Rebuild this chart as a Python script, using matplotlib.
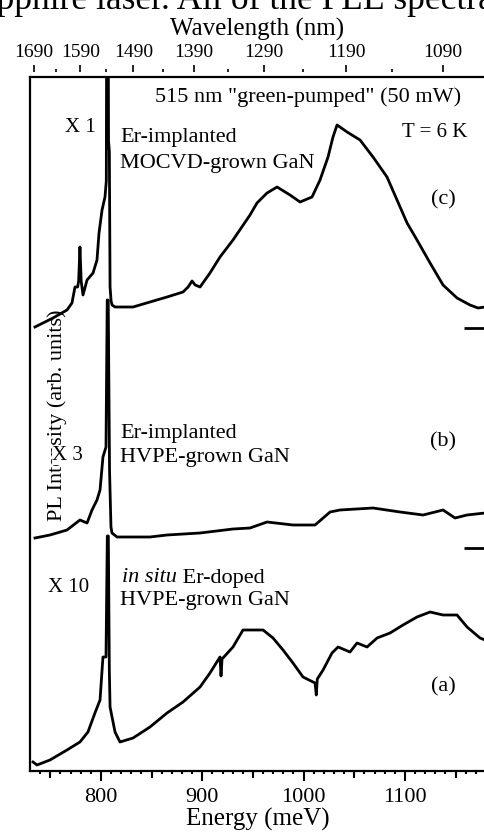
import numpy as np
import matplotlib.pyplot as plt

plt.rcParams['font.family'] = ['Liberation Serif', 'DejaVu Serif']

# spectra: energy (meV) and PL intensity (arb. units, offset stacked)
energy_c = [734.9, 742.8, 752.7, 766.5, 771.4, 774.4, 777.0, 778.0, 779.3, 780.5, 782.3, 786.3,
            792.2, 796.1, 798.1, 801.1, 804.0, 805.3, 806.0, 806.8, 807.5, 808.3, 809.0, 810.0,
            811.0, 813.9, 831.7, 848.4, 865.2, 881.0, 886.0, 889.9, 893.0, 897.8, 907.6, 917.5,
            930.3, 947.1, 954.0, 963.9, 973.8, 986.6, 996.5, 1008.3, 1016.2, 1024.1, 1029.0,
            1033.0, 1042.9, 1055.7, 1068.5, 1082.3, 1092.2, 1102.1, 1111.9, 1124.8, 1137.6,
            1151.4, 1164.2, 1172.1, 1179.0]
pl_c = [444, 448, 453, 461, 468, 484, 484, 490, 524, 490, 476, 491,
        498, 511, 538, 561, 574, 590, 900, 900, 630, 620, 484, 470,
        466, 464, 464, 469, 474, 479, 484, 490, 486, 484, 498, 514,
        531, 556, 568, 578, 584, 576, 569, 574, 591, 614, 634,
        646, 639, 631, 614, 594, 571, 548, 531, 508, 486,
        473, 466, 463, 464]

energy_b = [734.9, 749.7, 766.5, 779.3, 786.3, 791.2, 796.1, 799.1, 802.0, 805.0, 806.2, 807.2,
            808.5, 809.9, 810.9, 815.9, 831.7, 848.4, 865.2, 897.8, 930.3, 947.1, 963.9,
            989.5, 1011.3, 1026.1, 1035.9, 1068.5, 1095.2, 1117.9, 1137.6, 1149.4, 1161.3, 1179.0]
pl_b = [233, 236, 241, 251, 248, 261, 271, 281, 314, 324, 471, 471,
        300, 244, 238, 234, 234, 234, 236, 238, 242, 243, 249,
        246, 246, 259, 261, 263, 259, 256, 261, 253, 256, 258]

energy_a = [733.0, 736.9, 749.7, 766.5, 779.3, 787.2, 794.1, 799.1, 802.0, 805.0, 806.3, 807.3,
            808.3, 809.0, 813.9, 818.8, 831.7, 848.4, 865.2, 881.0, 897.8, 907.6, 917.5, 918.5,
            919.5, 930.3, 940.2, 947.1, 960.0, 969.8, 979.7, 989.5, 999.4, 1011.3, 1012.5, 1013.5,
            1019.2, 1028.0, 1034.0, 1045.8, 1052.7, 1062.6, 1072.5, 1085.3, 1098.1, 1111.9,
            1124.8, 1137.6, 1151.4, 1161.3, 1174.1, 1179.0]
pl_a = [9, 6, 11, 21, 29, 39, 58, 71, 114, 114, 235, 235,
        100, 64, 39, 29, 33, 44, 58, 69, 84, 98, 114, 95,
        112, 124, 141, 141, 141, 133, 121, 108, 94, 88, 76, 92,
        101, 118, 124, 119, 128, 124, 133, 138, 146, 154,
        159, 156, 156, 144, 133, 131]

zero_b = 223
zero_c = 443

wl_ticks = [1690, 1590, 1490, 1390, 1290, 1190, 1090]
wl_minor = [1640, 1540, 1440, 1340, 1240, 1140]

fig = plt.figure(figsize=(4.85, 8.36), dpi=100)
ax = fig.add_axes([30/485, 65/836, 455/485, 694/836])

for e, p in [(energy_a, pl_a), (energy_b, pl_b), (energy_c, pl_c)]:
    ax.plot(e, p, color='black', lw=2, zorder=2)
ax.hlines([zero_b, zero_c], 1158, 1180, color='black', lw=2)

ax.set_xlim(730, 1179)
ax.set_ylim(0, 694)
ax.spines['right'].set_visible(False)
for s in ['left', 'top', 'bottom']:
    ax.spines[s].set_linewidth(1.6)
ax.tick_params(left=False, labelleft=False)
ax.set_xticks([800, 900, 1000, 1100])
ax.set_xticks(np.arange(740, 1180, 10), minor=True)
ax.tick_params(axis='x', which='major', direction='out', length=7, width=1.5, labelsize=16, pad=5)
ax.tick_params(axis='x', which='minor', direction='out', length=2, width=1.5)
ax.set_xlabel('Energy (meV)', fontsize=18, labelpad=1)

# 50 meV ticks, medium length
mid = ax.secondary_xaxis('bottom')
mid.set_xticks([750, 850, 950, 1050, 1150])
mid.tick_params(direction='out', length=5, width=1.5, labelbottom=False)
mid.spines['bottom'].set_visible(False)

# wavelength axis on top
top = ax.secondary_xaxis(1.0 + 5/694, functions=(lambda e: 1239842/np.maximum(e, 1e-9),
                                                  lambda w: 1239842/np.maximum(w, 1e-9)))
top.set_xticks(wl_ticks)
top.set_xticks(wl_minor, minor=True)
top.tick_params(which='major', direction='out', length=5, width=1.2, labelsize=14, pad=3)
top.tick_params(which='minor', direction='out', length=2, width=1.2)
top.spines['top'].set_visible(False)
top.set_xlabel('Wavelength (nm)', fontsize=18, labelpad=6)

fs = 16
ax.text(853, 674, '515 nm "green-pumped" (50 mW)', fontsize=fs, va='center')
ax.text(1097, 639, 'T = 6 K', fontsize=15, va='center')
ax.text(780, 644, 'X 1', fontsize=15, va='center', ha='center')
ax.text(819, 634, 'Er-implanted', fontsize=fs, va='center')
ax.text(819, 608, 'MOCVD-grown GaN', fontsize=fs, va='center')
ax.text(1138, 571, '(c)', fontsize=fs, va='center', ha='center')

ax.text(756.6, 356, 'PL Intensity (arb. units)', fontsize=16, rotation=90,
        va='center', ha='center', zorder=1)
ax.text(766.5, 316, 'X 3', fontsize=15, va='center', ha='center', zorder=3,
        bbox=dict(facecolor='white', edgecolor='none', pad=0))
ax.text(819, 338, 'Er-implanted', fontsize=fs, va='center')
ax.text(819, 314, 'HVPE-grown GaN', fontsize=fs, va='center')
ax.text(1138, 329, '(b)', fontsize=fs, va='center', ha='center')

ax.text(768, 184, 'X 10', fontsize=15, va='center', ha='center')
t = ax.text(821, 193, 'in situ', fontsize=fs, va='center', style='italic')
ax.annotate(' Er-doped', xy=(1, 0), xycoords=t, fontsize=fs, va='bottom')
ax.text(819, 171, 'HVPE-grown GaN', fontsize=fs, va='center')
ax.text(1138, 84, '(a)', fontsize=fs, va='center', ha='center')

fig.text(-33/485, 1 - 9/836, 'sapphire laser. All of the PLE spectra', fontsize=25.5,
         va='baseline', ha='left')

fig.savefig('out.png', dpi=100)
